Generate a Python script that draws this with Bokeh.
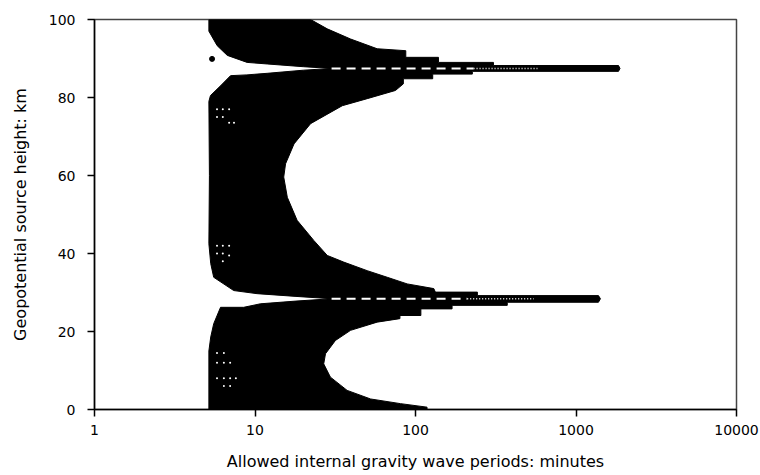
from bokeh.plotting import figure
from bokeh.models import FixedTicker, BasicTickFormatter, Range1d
from bokeh.embed import file_html
from bokeh.resources import INLINE

# ---- axis ticks ----
x_ticks = [1, 10, 100, 1000, 10000]
x_tick_labels = ["1", "10", "100", "1000", "10000"]
y_ticks = [0, 20, 40, 60, 80, 100]

# ---- right-hand edge of the region of allowed periods (height km, period min) ----
right_height = [0, 0.6, 1.5, 2.7, 4.9, 8.3, 11.7, 14.3, 17.7, 20.3, 22.4, 23.3, 24.1, 24.1,
                25.8, 25.8, 26.7, 26.7, 27.5, 27.5, 28.4, 29.2, 29.2, 30.1, 30.1, 31.0,
                32.2, 33.9, 35.6, 37.8, 39.5, 43.3, 48.5, 54.4, 59.6, 63.0, 68.1, 73.3,
                77.9, 79.7, 81.8, 83.5, 84.8, 84.8, 86.0, 86.0, 86.7, 86.7, 87.45, 88.2,
                88.2, 89.0, 89.0, 90.3, 90.3, 92.0, 92.5, 95.0, 97.6, 100]
right_period = [118, 118, 80.7, 52.5, 37.5, 29.5, 26.8, 27.5, 31.7, 39.4, 57.7, 80, 80, 108,
                108, 169, 169, 373, 373, 1380, 1420, 1380, 243, 243, 133, 130,
                88.8, 66.7, 50, 35.7, 28.2, 23.3, 18.3, 15.9, 15.1, 15.5, 17.5, 22.2,
                35, 50, 75, 84, 84, 128, 128, 226, 226, 1840, 1880, 1840,
                306, 306, 139, 139, 87, 87, 57.7, 39.4, 28.2, 22.2]

# ---- left-hand edge, from the top down ----
left_height = [100, 97.0, 93.3, 90.8, 89.0, 88.6, 87.9, 87.45, 87.0, 86.2, 85.8, 85.6, 83.0,
               80.5, 79.0, 60.0, 42.5, 37.4, 33.9, 30.5, 29.7, 29.0, 28.4, 27.8, 27.1, 26.2,
               26.2, 22.0, 18.6, 15.0, 0]
left_period = [5.16, 5.16, 5.81, 6.72, 8.93, 11.9, 20, 30, 20, 11.9, 8.9, 7.04, 6.1,
               5.28, 5.16, 5.2, 5.16, 5.3, 5.53, 7.37, 10.3, 18, 30, 18, 10.8, 8.5,
               6.1, 5.53, 5.3, 5.16, 5.16]

# ---- white gaps along the centre of the two ducts ----
duct_height = [28.4, 87.45]
duct_dash_start = [30, 30]
duct_dash_end = [210, 230]
duct_dot_end = [545, 575]

# ---- isolated points ----
stray_height = [89.9]
stray_period = [5.4]

# ---- white gaps between the plotted points near the left edge ----
speckle_period = [5.8, 6.3, 6.9, 5.8, 6.3, 6.9, 7.4,
                  5.8, 6.3, 6.9, 5.8, 6.3, 6.9, 6.3,
                  5.8, 6.4, 5.8, 6.4, 7.0, 5.8, 6.4, 7.0, 7.6, 6.4, 7.0]
speckle_height = [77, 77, 77, 75, 75, 73.5, 73.5,
                  42, 42, 42, 40, 40, 39.5, 38,
                  14.5, 14.5, 12, 12, 12, 8, 8, 8, 8, 6, 6]

p = figure(width=760, height=475, x_axis_type="log",
           x_range=Range1d(1, 10000), y_range=Range1d(0, 100),
           output_backend="svg", toolbar_location=None,
           min_border_left=94, min_border_right=24, min_border_top=19, min_border_bottom=66)

p.patch(right_period + left_period, right_height + left_height,
        fill_color="black", line_color="black", line_width=1)

for i in range(len(duct_height)):
    p.line([duct_dash_start[i], duct_dash_end[i]], [duct_height[i], duct_height[i]],
           line_color="white", line_width=2, line_dash="9 6")
    p.line([duct_dash_end[i], duct_dot_end[i]], [duct_height[i], duct_height[i]],
           line_color="white", line_width=1.5, line_dash="1 2")

p.scatter(stray_period, stray_height, size=5, color="black")
p.scatter(speckle_period, speckle_height, size=2, color="white", line_color=None)

p.xgrid.visible = False
p.ygrid.visible = False
p.outline_line_color = "#444444"
p.outline_line_width = 1.5
p.background_fill_color = "white"
p.border_fill_color = "white"

p.xaxis.ticker = FixedTicker(ticks=x_ticks)
p.xaxis.formatter = BasicTickFormatter(use_scientific=False)
p.xaxis.major_label_overrides = {t: l for t, l in zip(x_ticks, x_tick_labels)}
p.yaxis.ticker = FixedTicker(ticks=y_ticks)

for ax in (p.xaxis, p.yaxis):
    ax.axis_line_color = "black"
    ax.axis_line_width = 1.5
    ax.major_tick_line_color = "black"
    ax.major_tick_line_width = 1.5
    ax.major_tick_out = 7
    ax.major_tick_in = 0
    ax.minor_tick_line_color = None
    ax.major_label_text_font = "DejaVu Sans"
    ax.major_label_text_font_size = "14px"
    ax.major_label_text_color = "black"
    ax.axis_label_text_font = "DejaVu Sans"
    ax.axis_label_text_font_size = "16px"
    ax.axis_label_text_font_style = "normal"
    ax.axis_label_text_color = "black"

p.yaxis.major_label_standoff = 12
p.yaxis.axis_label_standoff = 16
p.xaxis.major_label_standoff = 8
p.xaxis.axis_label_standoff = 14
p.yaxis.axis_label = "Geopotential source height: km"
p.xaxis.axis_label = "Allowed internal gravity wave periods: minutes"

open("out.html", "w").write(file_html(p, INLINE))
